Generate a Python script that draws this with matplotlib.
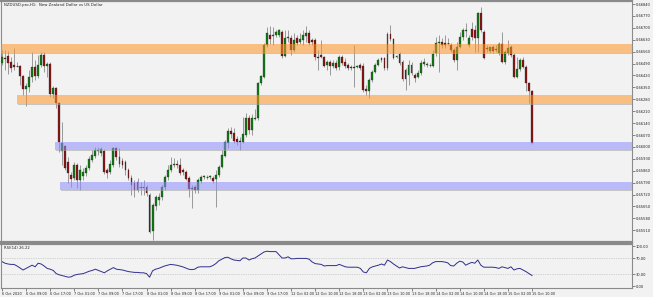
import matplotlib
matplotlib.use("Agg")
import matplotlib.pyplot as plt

# NZDUSD H1 candles, 6 Oct 2020 01:00 -> 15 Oct 2020 10:00
opens = [
    0.66494, 0.66523, 0.66535, 0.66499, 0.66482, 0.66476, 0.66476, 0.66417, 0.66341, 0.66352,
    0.66411, 0.66470, 0.66417, 0.66482, 0.66541, 0.66476, 0.66488, 0.66311, 0.66347, 0.66258,
    0.65976, 0.66006, 0.65911, 0.65835, 0.65817, 0.65894, 0.65806, 0.65829, 0.65847, 0.65876,
    0.65923, 0.65947, 0.65976, 0.65964, 0.65976, 0.65864, 0.65853, 0.65894, 0.65994, 0.65900,
    0.65917, 0.65911, 0.65864, 0.65817, 0.65788, 0.65747, 0.65764, 0.65764, 0.65764, 0.65717,
    0.65506, 0.65653, 0.65688, 0.65706, 0.65764, 0.65823, 0.65864, 0.65894, 0.65900, 0.65894,
    0.65864, 0.65853, 0.65817, 0.65753, 0.65764, 0.65747, 0.65800, 0.65823, 0.65823, 0.65823,
    0.65817, 0.65812, 0.65835, 0.65882, 0.65947, 0.66023, 0.66094, 0.66082, 0.66047, 0.66035,
    0.66029, 0.66070, 0.66170, 0.66100, 0.66164, 0.66170, 0.66376, 0.66411, 0.66599, 0.66658,
    0.66652, 0.66658, 0.66658, 0.66676, 0.66535, 0.66641, 0.66641, 0.66570, 0.66641, 0.66617,
    0.66629, 0.66652, 0.66670, 0.66629, 0.66629, 0.66529, 0.66541, 0.66529, 0.66482, 0.66499,
    0.66476, 0.66494, 0.66470, 0.66529, 0.66499, 0.66482, 0.66464, 0.66470, 0.66470, 0.66482,
    0.66476, 0.66341, 0.66329, 0.66394, 0.66441, 0.66482, 0.66511, 0.66523, 0.66464, 0.66664,
    0.66635, 0.66529, 0.66547, 0.66499, 0.66452, 0.66423, 0.66435, 0.66423, 0.66411, 0.66435,
    0.66488, 0.66482, 0.66482, 0.66476, 0.66552, 0.66611, 0.66617, 0.66611, 0.66611, 0.66599,
    0.66570, 0.66511, 0.66588, 0.66646, 0.66682, 0.66599, 0.66694, 0.66688, 0.66641, 0.66788,
    0.66676, 0.66582, 0.66564, 0.66588, 0.66576, 0.66552, 0.66605, 0.66499, 0.66552, 0.66588,
    0.66541, 0.66411, 0.66458, 0.66511, 0.66470, 0.66376, 0.66329,
]
highs = [
    0.66570, 0.66570, 0.66564, 0.66529, 0.66582, 0.66499, 0.66482, 0.66423, 0.66376, 0.66452,
    0.66558, 0.66511, 0.66541, 0.66558, 0.66558, 0.66499, 0.66499, 0.66358, 0.66352, 0.66264,
    0.66147, 0.66011, 0.65941, 0.65853, 0.65911, 0.65906, 0.65894, 0.65876, 0.65894, 0.65947,
    0.65982, 0.66000, 0.66000, 0.66000, 0.65988, 0.65876, 0.65923, 0.66000, 0.66000, 0.65994,
    0.65935, 0.65923, 0.65876, 0.65835, 0.65806, 0.65817, 0.65794, 0.65806, 0.65776, 0.65729,
    0.65670, 0.65717, 0.65729, 0.65776, 0.65835, 0.65894, 0.65941, 0.65935, 0.65923, 0.65935,
    0.65876, 0.65864, 0.65829, 0.65776, 0.65776, 0.65817, 0.65835, 0.65835, 0.65835, 0.65835,
    0.65829, 0.65864, 0.65894, 0.65982, 0.66041, 0.66111, 0.66117, 0.66111, 0.66064, 0.66058,
    0.66176, 0.66200, 0.66188, 0.66194, 0.66223, 0.66382, 0.66423, 0.66611, 0.66705, 0.66711,
    0.66705, 0.66688, 0.66694, 0.66688, 0.66688, 0.66688, 0.66658, 0.66670, 0.66658, 0.66670,
    0.66688, 0.66711, 0.66688, 0.66641, 0.66641, 0.66570, 0.66629, 0.66535, 0.66511, 0.66511,
    0.66511, 0.66511, 0.66541, 0.66541, 0.66523, 0.66494, 0.66482, 0.66599, 0.66482, 0.66494,
    0.66494, 0.66364, 0.66405, 0.66452, 0.66494, 0.66523, 0.66529, 0.66529, 0.66676, 0.66717,
    0.66641, 0.66541, 0.66558, 0.66511, 0.66464, 0.66511, 0.66499, 0.66435, 0.66452, 0.66511,
    0.66523, 0.66499, 0.66494, 0.66570, 0.66646, 0.66658, 0.66641, 0.66658, 0.66641, 0.66611,
    0.66582, 0.66617, 0.66676, 0.66699, 0.66729, 0.66658, 0.66735, 0.66717, 0.66793, 0.66823,
    0.66688, 0.66599, 0.66588, 0.66599, 0.66599, 0.66617, 0.66676, 0.66570, 0.66629, 0.66599,
    0.66552, 0.66529, 0.66523, 0.66529, 0.66482, 0.66382, 0.66335,
]
lows = [
    0.66482, 0.66452, 0.66429, 0.66441, 0.66452, 0.66470, 0.66364, 0.66305, 0.66241, 0.66323,
    0.66382, 0.66394, 0.66405, 0.66470, 0.66441, 0.66411, 0.66294, 0.66288, 0.66229, 0.65970,
    0.65894, 0.65864, 0.65788, 0.65764, 0.65806, 0.65759, 0.65747, 0.65806, 0.65829, 0.65864,
    0.65911, 0.65935, 0.65953, 0.65947, 0.65841, 0.65817, 0.65841, 0.65882, 0.65923, 0.65882,
    0.65876, 0.65835, 0.65806, 0.65717, 0.65706, 0.65735, 0.65717, 0.65717, 0.65711, 0.65494,
    0.65453, 0.65629, 0.65659, 0.65688, 0.65747, 0.65806, 0.65853, 0.65882, 0.65876, 0.65835,
    0.65835, 0.65806, 0.65706, 0.65641, 0.65729, 0.65729, 0.65788, 0.65812, 0.65812, 0.65812,
    0.65788, 0.65647, 0.65823, 0.65876, 0.65941, 0.65994, 0.66053, 0.66023, 0.66011, 0.65982,
    0.66023, 0.66058, 0.66076, 0.66070, 0.66158, 0.66158, 0.66364, 0.66405, 0.66588, 0.66605,
    0.66599, 0.66646, 0.66646, 0.66523, 0.66529, 0.66617, 0.66541, 0.66558, 0.66599, 0.66605,
    0.66599, 0.66617, 0.66599, 0.66599, 0.66511, 0.66452, 0.66523, 0.66470, 0.66452, 0.66423,
    0.66464, 0.66452, 0.66452, 0.66482, 0.66464, 0.66452, 0.66452, 0.66352, 0.66464, 0.66452,
    0.66323, 0.66305, 0.66288, 0.66382, 0.66435, 0.66476, 0.66499, 0.66452, 0.66452, 0.66623,
    0.66517, 0.66523, 0.66482, 0.66388, 0.66335, 0.66364, 0.66423, 0.66382, 0.66405, 0.66423,
    0.66476, 0.66470, 0.66470, 0.66470, 0.66535, 0.66441, 0.66582, 0.66582, 0.66599, 0.66558,
    0.66499, 0.66452, 0.66582, 0.66629, 0.66646, 0.66588, 0.66629, 0.66558, 0.66558, 0.66676,
    0.66517, 0.66558, 0.66552, 0.66552, 0.66558, 0.66541, 0.66494, 0.66488, 0.66541, 0.66529,
    0.66405, 0.66405, 0.66447, 0.66464, 0.66329, 0.66258, 0.66017,
]
closes = [
    0.66529, 0.66517, 0.66494, 0.66464, 0.66470, 0.66476, 0.66417, 0.66341, 0.66358, 0.66411,
    0.66470, 0.66417, 0.66482, 0.66541, 0.66476, 0.66488, 0.66311, 0.66347, 0.66258, 0.66029,
    0.66023, 0.65876, 0.65847, 0.65812, 0.65894, 0.65806, 0.65864, 0.65853, 0.65876, 0.65929,
    0.65953, 0.65982, 0.65982, 0.65988, 0.65853, 0.65847, 0.65900, 0.65994, 0.65941, 0.65941,
    0.65894, 0.65864, 0.65817, 0.65776, 0.65747, 0.65794, 0.65764, 0.65759, 0.65729, 0.65500,
    0.65659, 0.65706, 0.65706, 0.65764, 0.65823, 0.65864, 0.65894, 0.65900, 0.65894, 0.65847,
    0.65853, 0.65812, 0.65753, 0.65759, 0.65747, 0.65806, 0.65823, 0.65829, 0.65823, 0.65829,
    0.65800, 0.65835, 0.65882, 0.65953, 0.66029, 0.66094, 0.66076, 0.66035, 0.66029, 0.66029,
    0.66076, 0.66170, 0.66100, 0.66170, 0.66170, 0.66376, 0.66417, 0.66599, 0.66670, 0.66635,
    0.66658, 0.66676, 0.66688, 0.66535, 0.66641, 0.66646, 0.66570, 0.66629, 0.66611, 0.66635,
    0.66658, 0.66670, 0.66611, 0.66617, 0.66529, 0.66523, 0.66529, 0.66476, 0.66499, 0.66476,
    0.66494, 0.66464, 0.66529, 0.66494, 0.66476, 0.66464, 0.66470, 0.66464, 0.66476, 0.66464,
    0.66335, 0.66329, 0.66394, 0.66441, 0.66482, 0.66511, 0.66523, 0.66464, 0.66664, 0.66635,
    0.66523, 0.66535, 0.66494, 0.66400, 0.66400, 0.66482, 0.66482, 0.66405, 0.66435, 0.66494,
    0.66499, 0.66488, 0.66482, 0.66547, 0.66611, 0.66617, 0.66599, 0.66599, 0.66611, 0.66570,
    0.66511, 0.66588, 0.66646, 0.66688, 0.66688, 0.66641, 0.66646, 0.66641, 0.66788, 0.66688,
    0.66523, 0.66576, 0.66588, 0.66564, 0.66570, 0.66605, 0.66499, 0.66558, 0.66582, 0.66541,
    0.66411, 0.66458, 0.66511, 0.66470, 0.66376, 0.66329, 0.66023,
]
rsi = [
    61, 57, 55, 54, 54, 50, 45, 40, 44, 48,
    52, 48, 57, 55, 50, 44, 42, 39, 31, 28,
    26, 24, 22, 23, 27, 29, 30, 31, 34, 37,
    39, 42, 39, 36, 33, 38, 42, 46, 42, 41,
    40, 38, 36, 35, 34, 34, 33, 33, 31, 22,
    38, 42, 44, 47, 50, 52, 54, 53, 52, 50,
    48, 45, 42, 41, 42, 47, 48, 48, 48, 48,
    51, 56, 63, 67, 71, 72, 68, 65, 64, 63,
    70, 70, 65, 68, 70, 75, 80, 85, 87, 86,
    86, 86, 78, 70, 70, 73, 68, 68, 69, 69,
    69, 69, 67, 60, 56, 55, 54, 50, 51, 51,
    51, 51, 54, 51, 48, 47, 47, 47, 47, 44,
    35, 33, 44, 48, 50, 52, 55, 52, 65, 61,
    55, 50, 45, 48, 46, 44, 44, 44, 46, 48,
    49, 50, 52, 58, 61, 61, 61, 60, 58, 51,
    50, 57, 62, 60, 52, 56, 59, 57, 65, 52,
    47, 47, 47, 47, 46, 44, 48, 46, 44, 48,
    40, 43, 44, 40, 36, 31, 26.22,
]

# support / resistance zones: (start bar, low, high)
orange_zones = [(-1, 0.66552, 0.66603), (5, 0.66252, 0.66305)]
blue_zones = [(17.6, 0.65982, 0.66029), (19.3, 0.65747, 0.65794)]

price_ticks = [0.66840, 0.66770, 0.66700, 0.66630, 0.66560, 0.66490, 0.66420,
               0.66350, 0.66280, 0.66210, 0.66140, 0.66070, 0.66000, 0.65930,
               0.65860, 0.65790, 0.65720, 0.65650, 0.65580, 0.65510]
rsi_ticks = [0, 30, 70, 100]
time_labels = ["6 Oct 2020", "6 Oct 09:00", "6 Oct 17:00", "7 Oct 01:00", "7 Oct 09:00",
               "7 Oct 17:00", "8 Oct 01:00", "8 Oct 09:00", "8 Oct 17:00", "9 Oct 01:00",
               "9 Oct 09:00", "9 Oct 17:00", "12 Oct 02:00", "12 Oct 10:00", "12 Oct 18:00",
               "13 Oct 02:00", "13 Oct 10:00", "13 Oct 18:00", "14 Oct 02:00", "14 Oct 10:00",
               "14 Oct 18:00", "15 Oct 02:00", "15 Oct 10:00"]

BG = "#f2f2f2"
FRAME = "#8a8a8a"
BULL = "#0f7d12"
BEAR = "#8c1414"
WICK = "#999999"
W, H = 653, 297
XMIN, XMAX = -0.33, 209.2

fig = plt.figure(figsize=(W / 100, H / 100), dpi=100, facecolor=BG)
ax = fig.add_axes([1 / W, 1 - 242 / H, 631 / W, 241 / H], facecolor=BG)
ax_rsi = fig.add_axes([1 / W, 1 - 288 / H, 631 / W, 44 / H], facecolor=BG)

xs = list(range(len(closes)))

# candles
ax.vlines(xs, lows, highs, color=WICK, lw=0.7, zorder=2)
for i in xs:
    o, c = opens[i], closes[i]
    col = BULL if c >= o else BEAR
    h = abs(c - o)
    if h < 0.00002:
        ax.hlines((o + c) / 2, i - 0.35, i + 0.35, color="#333333", lw=0.6, zorder=3)
    else:
        ax.bar(i, h, bottom=min(o, c), width=0.62, color=col,
               edgecolor="#222222", linewidth=0.2, zorder=3)

# zones (semi transparent, with a thin shadow underneath)
for start, lo, hi in orange_zones + blue_zones:
    ax.fill_between([start + 0.3, XMAX], lo - 0.00008, lo,
                    color="#a8a8a8", alpha=0.6, lw=0, zorder=4)
for start, lo, hi in orange_zones:
    ax.fill_between([start, XMAX], lo, hi, color="#ff9626", alpha=0.55, lw=0, zorder=5)
for start, lo, hi in blue_zones:
    ax.fill_between([start, XMAX], lo, hi, color="#8f8cff", alpha=0.55, lw=0, zorder=5)

ax.set_xlim(XMIN, XMAX)
ax.set_ylim(0.65441, 0.66858)
ax.set_xticks([])
ax.yaxis.tick_right()
ax.set_yticks(price_ticks)
ax.set_yticklabels([f"{t:.5f}" for t in price_ticks])
ax.tick_params(axis="y", length=2, width=0.5, color="#555555", labelsize=2.6,
               pad=0.8, labelcolor="#222222")
ax.text(0.004, 0.993, "NZDUSD.pro,H1:  New Zealand Dollar vs US Dollar",
        transform=ax.transAxes, fontsize=2.8, va="top", ha="left", color="#222222")

# RSI panel
ax_rsi.axhline(70, color="#b0b0b0", lw=0.5, ls=(0, (1, 1.5)))
ax_rsi.axhline(30, color="#b0b0b0", lw=0.5, ls=(0, (1, 1.5)))
ax_rsi.plot(xs, rsi, color="#2e2e8c", lw=0.7)
ax_rsi.set_xlim(XMIN, XMAX)
ax_rsi.set_ylim(-5, 105)
ax_rsi.yaxis.tick_right()
ax_rsi.set_yticks(rsi_ticks)
ax_rsi.set_yticklabels([f"{t:.2f}" for t in rsi_ticks])
ax_rsi.tick_params(axis="y", length=2, width=0.5, color="#555555", labelsize=2.6,
                   pad=0.8, labelcolor="#222222")
ax_rsi.set_xticks(list(range(0, 8 * len(time_labels), 8)))
ax_rsi.set_xticklabels(time_labels, ha="left")
ax_rsi.tick_params(axis="x", length=2, width=0.5, color="#555555", labelsize=2.5,
                   pad=0.8, labelcolor="#222222")
ax_rsi.text(0.004, 0.95, f"RSI(14) {rsi[-1]:.2f}", transform=ax_rsi.transAxes,
            fontsize=2.7, va="top", ha="left", color="#222222")

for a in (ax, ax_rsi):
    for side in ("left", "right", "bottom"):
        a.spines[side].set_color(FRAME)
        a.spines[side].set_linewidth(0.8)
    a.spines["top"].set_color(FRAME)
    a.spines["top"].set_linewidth(1.6)
ax.spines["bottom"].set_linewidth(1.6)

fig.savefig("out.png", dpi=100, facecolor=BG)
